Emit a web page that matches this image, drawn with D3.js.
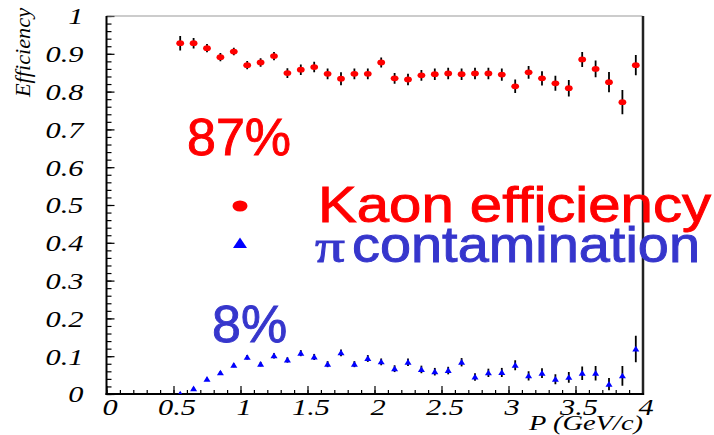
<!DOCTYPE html>
<html>
<head>
<meta charset="utf-8">
<script src="https://cdn.jsdelivr.net/npm/d3@7"></script>
<style>
  html, body { margin: 0; padding: 0; background: #fff; }
  svg { display: block; }
</style>
</head>
<body>
<div id="chart"></div>
<script>
// momentum bin centres (GeV/c)
const pBins = [0.55, 0.65, 0.75, 0.85, 0.95, 1.05, 1.15, 1.25, 1.35, 1.45, 1.55, 1.65,
  1.75, 1.85, 1.95, 2.05, 2.15, 2.25, 2.35, 2.45, 2.55, 2.65, 2.75, 2.85, 2.95, 3.05,
  3.15, 3.25, 3.35, 3.45, 3.55, 3.65, 3.75, 3.85, 3.95];
const kaonEff = [0.928, 0.928, 0.915, 0.891, 0.906, 0.870, 0.877, 0.894, 0.849, 0.858, 0.865, 0.847,
  0.834, 0.847, 0.847, 0.877, 0.835, 0.832, 0.843, 0.846, 0.848, 0.846, 0.848, 0.848, 0.845, 0.814,
  0.851, 0.835, 0.822, 0.809, 0.885, 0.860, 0.825, 0.772, 0.870];
const kaonErr = [0.019, 0.014, 0.011, 0.011, 0.010, 0.011, 0.011, 0.011, 0.013, 0.014, 0.014, 0.014,
  0.017, 0.014, 0.014, 0.013, 0.014, 0.015, 0.014, 0.015, 0.015, 0.015, 0.015, 0.015, 0.016, 0.018,
  0.017, 0.019, 0.020, 0.022, 0.020, 0.022, 0.027, 0.032, 0.027];
const pionCont = [0.000, 0.014, 0.039, 0.056, 0.076, 0.097, 0.079, 0.101, 0.090, 0.108, 0.098, 0.079,
  0.109, 0.079, 0.094, 0.085, 0.067, 0.084, 0.065, 0.059, 0.062, 0.084, 0.045, 0.056, 0.057, 0.076,
  0.048, 0.055, 0.039, 0.044, 0.055, 0.055, 0.026, 0.048, 0.119];
const pionErr = [0.004, 0.003, 0.004, 0.004, 0.005, 0.006, 0.006, 0.007, 0.007, 0.008, 0.008, 0.008,
  0.009, 0.008, 0.009, 0.009, 0.009, 0.010, 0.010, 0.010, 0.010, 0.011, 0.010, 0.011, 0.012, 0.013,
  0.012, 0.013, 0.013, 0.014, 0.018, 0.019, 0.016, 0.026, 0.035];
const xTicks = [0, 0.5, 1, 1.5, 2, 2.5, 3, 3.5, 4];
const yTicks = [0, 0.1, 0.2, 0.3, 0.4, 0.5, 0.6, 0.7, 0.8, 0.9, 1];

const RED = '#ff0000', BLUE = '#0000ff', TXTBLUE = '#3636cc';
const SERIF = '"Liberation Serif", "Times New Roman", serif';
const SANS = '"Liberation Sans", Arial, Helvetica, sans-serif';
const W = 714, H = 435;
const L = 106.5, R = 642.5, T = 16, B = 394;

const x = d3.scaleLinear().domain([0, 4]).range([L, R]);
const y = d3.scaleLinear().domain([0, 1]).range([B, T]);

const svg = d3.select('#chart').append('svg').attr('width', W).attr('height', H);
svg.append('defs').append('clipPath').attr('id', 'plot')
  .append('rect').attr('x', L).attr('y', T).attr('width', R - L).attr('height', B - T);

// stretch text horizontally, the original glyphs are wide
const stretch = (sel, k) => sel.each(function () {
  const w = this.getComputedTextLength();
  d3.select(this).attr('textLength', w * k).attr('lengthAdjust', 'spacingAndGlyphs');
});

// minor + major ticks, pointing into the frame
const gx = svg.append('g').attr('transform', `translate(0,${B})`);
gx.call(d3.axisBottom(x).tickValues(d3.range(0, 4.001, 0.1)).tickSize(-4).tickFormat(''));
gx.append('g').call(d3.axisBottom(x).tickValues(xTicks).tickSize(-8).tickPadding(5).tickFormat(d3.format('')));
const gy = svg.append('g').attr('transform', `translate(${L},0)`);
gy.call(d3.axisLeft(y).tickValues(d3.range(0, 1.001, 0.02)).tickSize(-5).tickFormat(''));
gy.append('g').call(d3.axisLeft(y).tickValues(yTicks).tickSize(-8).tickPadding(23).tickFormat(d3.format('')));
svg.selectAll('.domain').remove();
svg.selectAll('.tick line').attr('stroke', '#000').attr('stroke-width', 1.2);
svg.selectAll('.tick text').attr('font-family', SERIF).attr('font-style', 'italic')
  .attr('font-size', 23).attr('fill', '#000');
gx.selectAll('.tick text').attr('dy', '0.7em').attr('dx', 3);
gy.selectAll('.tick text').attr('dy', '0.34em');
stretch(svg.selectAll('.tick text'), 1.32);

// frame
svg.append('line').attr('x1', L).attr('x2', R).attr('y1', T).attr('y2', T).attr('stroke', '#999').attr('stroke-width', 1);
svg.append('line').attr('x1', R + 0.5).attr('x2', R + 0.5).attr('y1', T).attr('y2', B + 1).attr('stroke', '#222').attr('stroke-width', 2.5);
svg.append('line').attr('x1', L).attr('x2', L).attr('y1', T).attr('y2', B + 1).attr('stroke', '#000').attr('stroke-width', 2);
svg.append('line').attr('x1', L - 1).attr('x2', R + 1.5).attr('y1', B).attr('y2', B).attr('stroke', '#000').attr('stroke-width', 2);

// axis titles
svg.append('text').attr('transform', `translate(30,8) rotate(-90)`).attr('text-anchor', 'end')
  .attr('font-family', SERIF).attr('font-style', 'italic').attr('font-size', 21).text('Efficiency')
  .attr('textLength', 89).attr('lengthAdjust', 'spacingAndGlyphs');
svg.append('text').attr('x', 643).attr('y', 430).attr('text-anchor', 'end')
  .attr('font-family', SERIF).attr('font-style', 'italic').attr('font-size', 20).text('P (GeV/c)')
  .attr('textLength', 114).attr('lengthAdjust', 'spacingAndGlyphs');

// data
const kaon = pBins.map((p, i) => ({ p, v: kaonEff[i], e: kaonErr[i] }));
const pion = pBins.map((p, i) => ({ p, v: pionCont[i], e: pionErr[i] }));
const plot = svg.append('g').attr('clip-path', 'url(#plot)');

const bars = (data) => plot.append('g').selectAll('line').data(data).join('line')
  .attr('x1', d => x(d.p)).attr('x2', d => x(d.p))
  .attr('y1', d => y(d.v - d.e)).attr('y2', d => y(d.v + d.e))
  .attr('stroke', '#000').attr('stroke-width', 1.8);
bars(kaon);
bars(pion);
plot.append('g').selectAll('ellipse').data(kaon).join('ellipse')
  .attr('cx', d => x(d.p)).attr('cy', d => y(d.v)).attr('rx', 3.9).attr('ry', 2.9).attr('fill', RED);
const tri = 'M0,-3.2L3.5,2.5L-3.5,2.5Z';
plot.append('g').selectAll('path').data(pion).join('path')
  .attr('transform', d => `translate(${x(d.p)},${y(d.v)})`).attr('d', tri).attr('fill', BLUE);

// annotations (slight stroke to match the heavy original glyphs)
const big = (sel, col) => sel.attr('font-family', SANS).attr('font-size', 52).attr('fill', col)
  .attr('stroke', col).attr('stroke-width', 0.9);
svg.append('text').attr('x', 187).attr('y', 155).call(big, RED).text('87%');
svg.append('text').attr('x', 212).attr('y', 342).call(big, TXTBLUE).text('8%');
svg.append('ellipse').attr('cx', 240).attr('cy', 206).attr('rx', 7.5).attr('ry', 5.5).attr('fill', RED);
svg.append('path').attr('transform', 'translate(240,243)').attr('d', 'M0,-5.5L7,5L-7,5Z').attr('fill', BLUE);
svg.append('text').attr('x', 318).attr('y', 222).call(big, RED).attr('font-size', 50).text('Kaon efficiency')
  .attr('textLength', 393).attr('lengthAdjust', 'spacingAndGlyphs');
svg.append('text').attr('x', 315).attr('y', 262).call(big, TXTBLUE).attr('font-family', SERIF).attr('font-size', 46)
  .text('π').attr('textLength', 30).attr('lengthAdjust', 'spacingAndGlyphs');
svg.append('text').attr('x', 352).attr('y', 262).call(big, TXTBLUE).attr('font-size', 50).text('contamination')
  .attr('textLength', 348).attr('lengthAdjust', 'spacingAndGlyphs');
</script>
</body>
</html>
